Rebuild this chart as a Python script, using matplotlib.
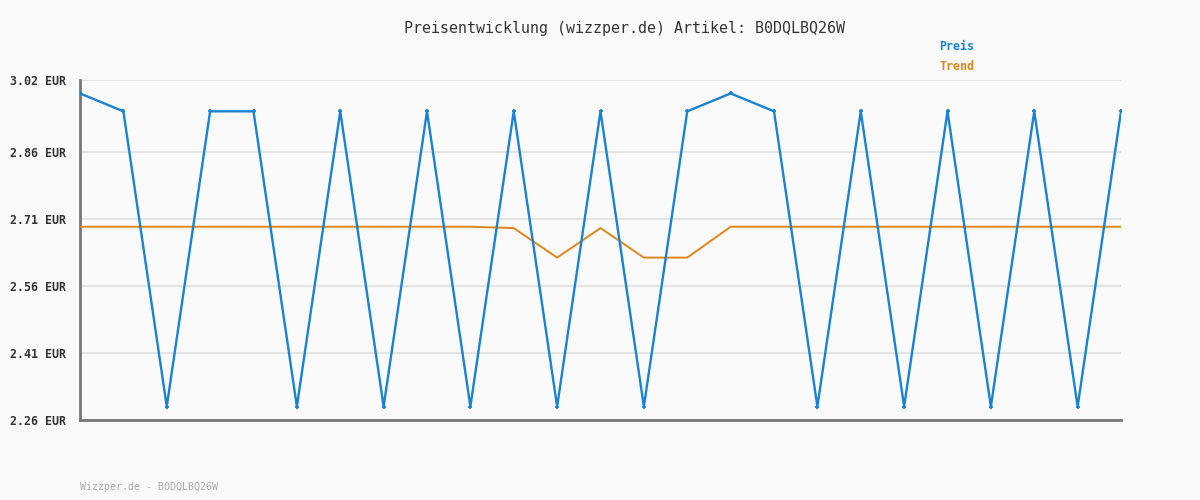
import numpy as np
import matplotlib.pyplot as plt

# Preis values (EUR) per data point
preis = [2.99, 2.95, 2.29, 2.95, 2.95, 2.29, 2.95, 2.29, 2.95, 2.29, 2.95, 2.29, 2.95,
         2.29, 2.95, 2.99, 2.95, 2.29, 2.95, 2.29, 2.95, 2.29, 2.95, 2.29, 2.95]
trend = [2.692, 2.692, 2.692, 2.692, 2.692, 2.692, 2.692, 2.692, 2.692, 2.692, 2.689,
         2.623, 2.689, 2.623, 2.623, 2.692, 2.692, 2.692, 2.692, 2.692, 2.692, 2.692,
         2.692, 2.692, 2.692]
yticks = [2.26, 2.41, 2.56, 2.71, 2.86, 3.02]
artikel = 'B0DQLBQ26W'

blue = '#1a82d2'
orange = '#e0861a'
bg = '#fafafa'

plt.rcParams['font.family'] = ['DejaVu Sans Mono']

fig = plt.figure(figsize=(12, 5), dpi=100, facecolor=bg)
ax = fig.add_axes([80 / 1200, 80 / 500, 1041 / 1200, 340 / 500])
ax.set_facecolor(bg)

x = np.arange(len(preis))
ax.plot(x, trend, color=orange, lw=1.4, zorder=3)
ax.plot(x, preis, color=blue, lw=1.7, marker='+', ms=3.5, mew=1.3, zorder=4)

ax.set_xlim(0, len(preis) - 1)
ax.set_ylim(2.26, 3.02)
ax.set_yticks(yticks)
ax.set_yticklabels([f'{v:.2f} EUR' for v in yticks], fontsize=8.4, fontweight='bold', color='#333333')
ax.set_xticks([])
ax.tick_params(axis='y', length=0, pad=10)
ax.grid(axis='y', color='#e4e4e4', lw=1.5)
ax.set_axisbelow(True)
for s in ['top', 'right']:
    ax.spines[s].set_visible(False)
for s in ['left', 'bottom']:
    ax.spines[s].set_color('#777777')
    ax.spines[s].set_linewidth(2)

fig.text(624 / 1200, 1 - 28 / 500, f'Preisentwicklung (wizzper.de) Artikel: {artikel}',
         ha='center', va='center', fontsize=10.8, color='#333333')
fig.text(957 / 1200, 1 - 47 / 500, 'Preis', ha='center', va='center', fontsize=8.4,
         fontweight='bold', color=blue)
fig.text(957 / 1200, 1 - 67 / 500, 'Trend', ha='center', va='center', fontsize=8.4,
         fontweight='bold', color=orange)
fig.text(80 / 1200, 1 - 487 / 500, f'Wizzper.de - {artikel}', ha='left', va='center',
         fontsize=7.2, color='#aaaaaa')

fig.savefig('out.png', dpi=100, facecolor=bg)
